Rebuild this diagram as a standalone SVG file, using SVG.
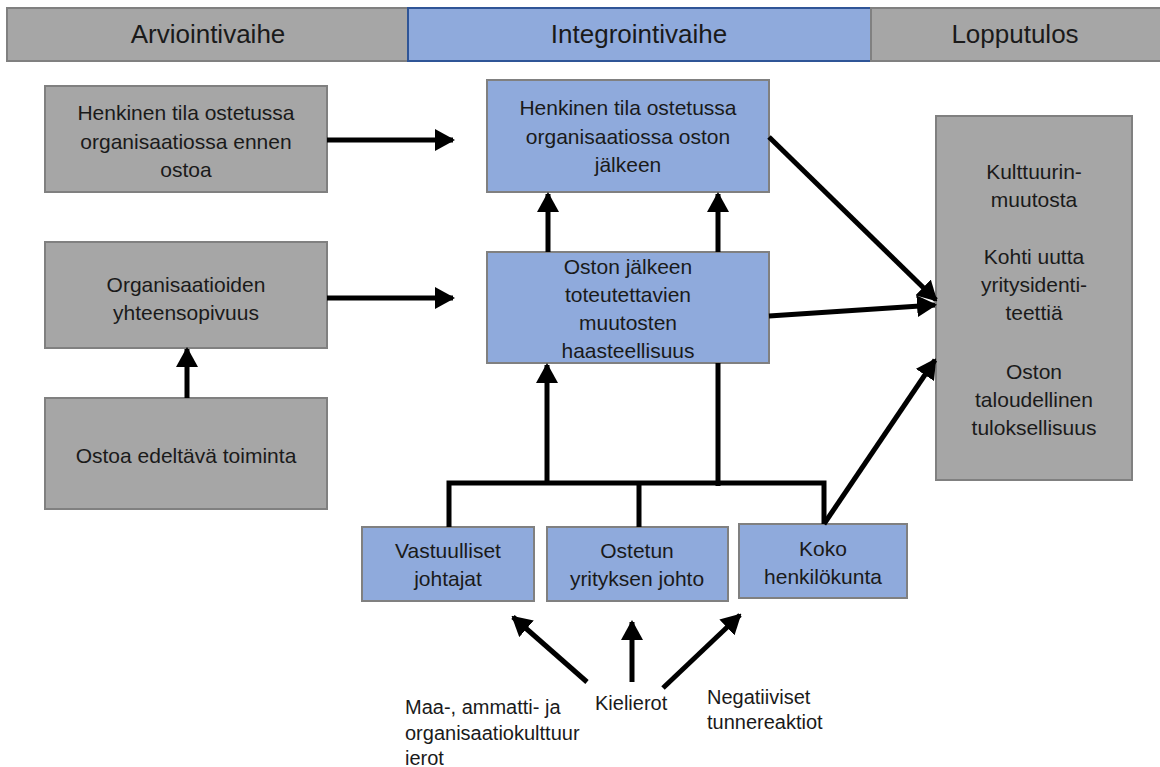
<svg xmlns="http://www.w3.org/2000/svg" width="1160" height="767" viewBox="0 0 1160 767">
<style>
text{font-family:"Liberation Sans",Arial,sans-serif;fill:#1a1a1a;text-anchor:middle}
.h{font-size:26px}
.t{font-size:21px}
.l{font-size:20px;text-anchor:start}
.g{fill:#a6a6a6;stroke:#808080;stroke-width:2}
.b{fill:#8faadc;stroke:#808080;stroke-width:2}
.c{stroke:#000;stroke-width:5;fill:none}
</style>
<defs>
<marker id="ah" markerUnits="userSpaceOnUse" markerWidth="20" markerHeight="22" refX="18" refY="11" orient="auto">
<path d="M0,0 L20,11 L0,22 Z" fill="#000"/>
</marker>
</defs>
<rect width="1160" height="767" fill="#fff"/>
<g id="header-arvio"><rect x="7" y="8" width="401" height="53" class="g"/><text class="h" x="208" y="43">Arviointivaihe</text></g>
<g id="header-integ"><rect x="408" y="8" width="463" height="53" fill="#8faadc" stroke="#2f5597" stroke-width="2"/><text class="h" x="639" y="43">Integrointivaihe</text></g>
<g id="header-loppu"><rect x="871" y="8" width="295" height="53" class="g"/><text class="h" x="1015" y="43">Lopputulos</text></g>

<g id="n-henkinen-ennen"><rect x="45" y="86" width="282" height="106" class="g"/>
<text class="t" x="186" y="120">Henkinen tila ostetussa</text><text class="t" x="186" y="149">organisaatiossa ennen</text><text class="t" x="186" y="177">ostoa</text></g>
<g id="n-yhteensopivuus"><rect x="45" y="242" width="282" height="106" class="g"/>
<text class="t" x="186" y="292">Organisaatioiden</text><text class="t" x="186" y="320">yhteensopivuus</text></g>
<g id="n-edeltava"><rect x="45" y="398" width="282" height="111" class="g"/>
<text class="t" x="186" y="463">Ostoa edeltävä toiminta</text></g>

<g id="n-henkinen-jalkeen"><rect x="487" y="80" width="282" height="112" class="b"/>
<text class="t" x="628" y="115">Henkinen tila ostetussa</text><text class="t" x="628" y="144">organisaatiossa oston</text><text class="t" x="628" y="172">jälkeen</text></g>
<g id="n-haasteellisuus"><rect x="487" y="252" width="282" height="111" class="b"/>
<text class="t" x="628" y="274">Oston jälkeen</text><text class="t" x="628" y="302">toteutettavien</text><text class="t" x="628" y="330">muutosten</text><text class="t" x="628" y="358">haasteellisuus</text></g>

<g id="n-lopputulos"><rect x="936" y="116" width="196" height="364" class="g"/>
<text class="t" x="1034" y="179">Kulttuurin-</text><text class="t" x="1034" y="207">muutosta</text>
<text class="t" x="1034" y="264">Kohti uutta</text><text class="t" x="1034" y="292">yritysidenti-</text><text class="t" x="1034" y="320">teettiä</text>
<text class="t" x="1034" y="379">Oston</text><text class="t" x="1034" y="407">taloudellinen</text><text class="t" x="1034" y="435">tuloksellisuus</text></g>

<g id="n-vastuulliset"><rect x="362" y="527" width="172" height="74" class="b"/>
<text class="t" x="448" y="558">Vastuulliset</text><text class="t" x="448" y="586">johtajat</text></g>
<g id="n-ostetun"><rect x="547" y="527" width="181" height="74" class="b"/>
<text class="t" x="637" y="558">Ostetun</text><text class="t" x="637" y="586">yrityksen johto</text></g>
<g id="n-koko"><rect x="739" y="524" width="168" height="74" class="b"/>
<text class="t" x="823" y="556">Koko</text><text class="t" x="823" y="584">henkilökunta</text></g>

<g id="n-labels">
<text class="l" x="405" y="714">Maa-, ammatti- ja</text><text class="l" x="405" y="740">organisaatiokulttuur</text><text class="l" x="405" y="765">ierot</text>
<text class="l" x="595" y="710">Kielierot</text>
<text class="l" x="707" y="704">Negatiiviset</text><text class="l" x="707" y="729">tunnereaktiot</text>
</g>

<g id="connectors" class="c">
<line x1="327" y1="140" x2="453" y2="140" marker-end="url(#ah)"/>
<line x1="327" y1="298" x2="453" y2="298" marker-end="url(#ah)"/>
<line x1="187" y1="398" x2="187" y2="349" marker-end="url(#ah)"/>
<line x1="548" y1="252" x2="548" y2="194" marker-end="url(#ah)"/>
<line x1="718" y1="252" x2="718" y2="194" marker-end="url(#ah)"/>
<line x1="769" y1="137" x2="936" y2="300" marker-end="url(#ah)"/>
<line x1="769" y1="316" x2="935" y2="305" marker-end="url(#ah)"/>
<polyline points="449,527 449,483 824,483 824,524"/>
<line x1="639" y1="483" x2="639" y2="527"/>
<line x1="547" y1="483" x2="547" y2="365" marker-end="url(#ah)"/>
<line x1="718" y1="486" x2="718" y2="363"/>
<line x1="824" y1="524" x2="935" y2="360" marker-end="url(#ah)"/>
<line x1="587" y1="682" x2="513" y2="617" marker-end="url(#ah)"/>
<line x1="632" y1="682" x2="632" y2="622" marker-end="url(#ah)"/>
<line x1="663" y1="688" x2="740" y2="615" marker-end="url(#ah)"/>
</g>
</svg>
